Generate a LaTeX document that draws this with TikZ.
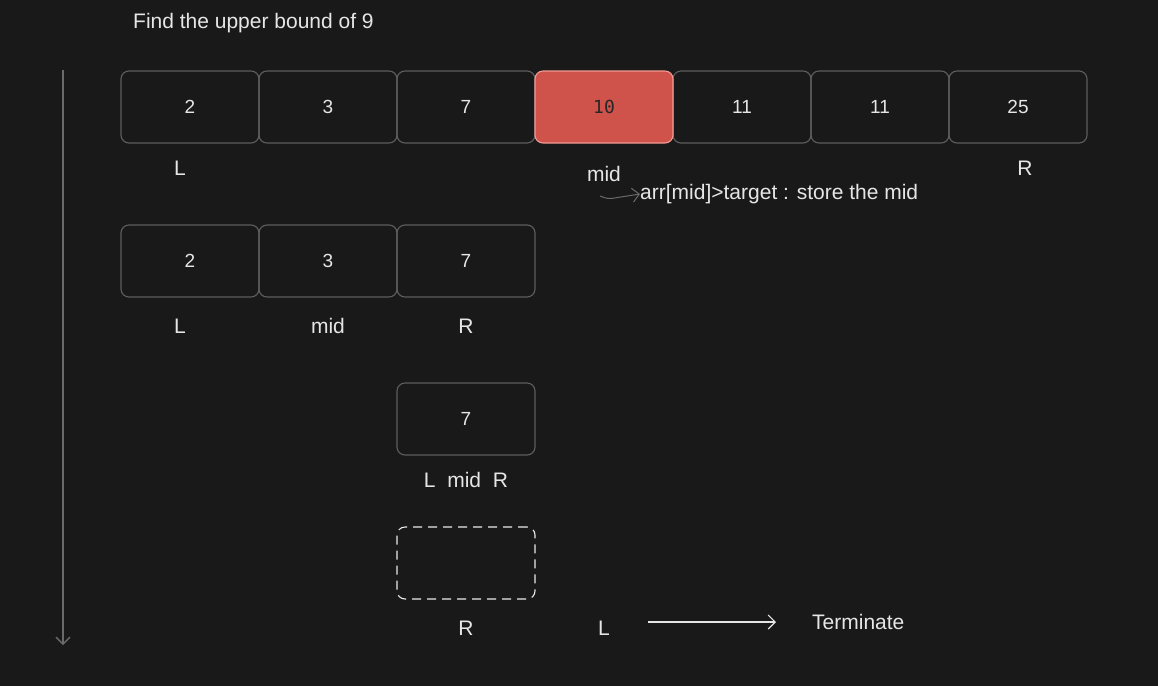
\documentclass[tikz,border=0pt]{standalone}
\usepackage{fontspec}
\setmainfont{Liberation Sans}
\newfontfamily\codefont{DejaVu Sans Mono}
\usetikzlibrary{arrows.meta}

\definecolor{bg}{HTML}{191919}
\definecolor{edge}{HTML}{5E5E5E}
\definecolor{ink}{HTML}{E6E6E6}
\definecolor{hot}{HTML}{CF534B}
\definecolor{hotedge}{HTML}{F29A93}
\definecolor{axis}{HTML}{6A6A6A}

\tikzset{
    cell/.style={draw=edge, line width=1.1pt, rounded corners=8pt,
        minimum width=138pt, minimum height=72pt, inner sep=0pt,
        text=ink, font=\fontsize{19}{22}\selectfont},
    lbl/.style={text=ink, font=\fontsize{21}{24}\selectfont, inner sep=0pt},
    >={Straight Barb[length=7pt, width=14pt]}
}

\begin{document}
\begin{tikzpicture}[x=1pt, y=-1pt]
    % Background
    \fill[bg] (0,0) rectangle (1158,686);
    \useasboundingbox (0,0) rectangle (1158,686);

    % Title
    \node[lbl, anchor=west] (title) at (133,23) {Find the upper bound of 9};

    % Time axis
    \coordinate (top) at (63,70);
    \coordinate (bottom) at (63,645);
    \draw[->, axis, line width=1.3pt] (top) -- (bottom);

    % Step 1
    \foreach \v/\i in {2/1,3/2,7/3,11/5,11/6,25/7}
        \node[cell] (a\i) at ({190+138*(\i-1)},107) {\v};
    \node[cell, fill=hot, draw=hotedge, font=\codefont\fontsize{18}{20}\selectfont, text=black!85]
        (a4) at (604,107) {10};
    \node[lbl] (l1) at (180,168) {L};
    \node[lbl] (m1) at (604,174) {mid};
    \node[lbl] (r1) at (1025,168) {R};
    \coordinate (hook) at (600,196);
    \node[lbl, anchor=west] (note) at (640,194) {arr[mid]>target : store the mid};
    \draw[->, axis, line width=1pt, rounded corners=4pt] (hook) -- ++(8,3) -- (note.west);

    % Step 2
    \foreach \v/\i in {2/1,3/2,7/3}
        \node[cell] (b\i) at ({190+138*(\i-1)},261) {\v};
    \node[lbl] (l2) at (180,326) {L};
    \node[lbl] (m2) at (328,326) {mid};
    \node[lbl] (r2) at (466,326) {R};

    % Step 3
    \node[cell] (c3) at (466,419) {7};
    \node[lbl] (lmr) at (466,480) {L\ \ mid\ \ R};

    % Step 4
    \node[cell, draw=ink!80, dashed, dash pattern=on 9pt off 6pt] (d3) at (466,563) {};
    \node[lbl] (r4) at (466,628) {R};
    \node[lbl] (l4) at (604,628) {L};
    \node[lbl, anchor=west] (stop) at (812,622) {Terminate};
    \coordinate (go) at (648,622);
    \coordinate (goend) at (776,622);
    \draw[->, ink, line width=1.1pt] (go) -- (goend);
\end{tikzpicture}
\end{document}
